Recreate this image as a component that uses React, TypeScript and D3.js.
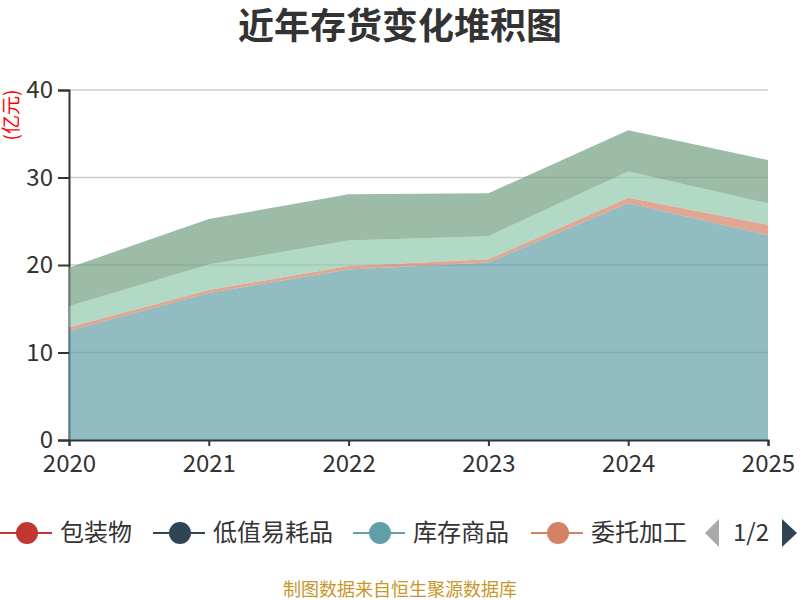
import { useEffect, useRef } from 'react';
import * as d3 from 'd3';

// years on the x axis
const years = ['2020', '2021', '2022', '2023', '2024', '2025'];

// series (stack order, bottom first), values in 亿元
const seriesNames = ['包装物', '低值易耗品', '库存商品', '委托加工', '原材料', '在产品'];
const packaging = [0, 0, 0, 0, 0, 0];
const lowValue = [0, 0, 0, 0, 0, 0];
const goods = [12.5, 16.8, 19.5, 20.3, 27.05, 23.4];
const processing = [0.4, 0.35, 0.4, 0.35, 0.65, 1.2];
const rawMaterial = [2.4, 2.9, 2.9, 2.65, 3.0, 2.45];
const wip = [4.4, 5.2, 5.3, 4.9, 4.7, 4.95];
const colors = ['#c23531', '#2f4554', '#61a0a8', '#d48265', '#91c7ae', '#749f83'];
const yTicks = [0, 10, 20, 30, 40];

const FONT = '"Noto Sans CJK SC", "Noto Sans", sans-serif';

export default function App() {
  const svgRef = useRef<SVGSVGElement>(null);

  useEffect(() => {
    if (!svgRef.current) return;
    const root = d3.select(svgRef.current);
    root.selectAll('*').remove();

    const W = 800;
    const H = 600;
    const margin = { top: 90, right: 32, bottom: 160, left: 69 };
    const width = W - margin.left - margin.right;
    const chartHeight = H - margin.top - margin.bottom;

    const allSeries = [packaging, lowValue, goods, processing, rawMaterial, wip];
    const table = years.map((y, i) => {
      const row: Record<string, number | string> = { year: y };
      seriesNames.forEach((n, k) => (row[n] = allSeries[k][i]));
      return row;
    });
    const stacked = d3.stack<any>().keys(seriesNames)(table);

    const xScale = d3.scalePoint<string>().domain(years).range([0, width]);
    const yScale = d3.scaleLinear().domain([0, 40]).range([chartHeight, 0]);

    // Title
    root
      .append('text')
      .attr('x', W / 2)
      .attr('y', 39)
      .attr('text-anchor', 'middle')
      .attr('font-family', FONT)
      .attr('font-size', 36)
      .attr('font-weight', 'bold')
      .attr('fill', '#333')
      .text('近年存货变化堆积图');

    // Unit label
    root
      .append('text')
      .attr('transform', `translate(9,115) rotate(-90)`)
      .attr('text-anchor', 'middle')
      .attr('dominant-baseline', 'central')
      .attr('font-family', FONT)
      .attr('font-size', 19)
      .attr('fill', 'red')
      .text('(亿元)');

    const svg = root.append('g').attr('transform', `translate(${margin.left},${margin.top})`);

    // Grid lines
    svg
      .selectAll('.grid')
      .data(yTicks.filter(t => t > 0))
      .enter()
      .append('line')
      .attr('x1', 0)
      .attr('x2', width)
      .attr('y1', d => yScale(d))
      .attr('y2', d => yScale(d))
      .attr('stroke', '#ccc')
      .attr('stroke-width', 1.5);

    // Y axis line drawn below the areas
    const yAxis = d3.axisLeft(yScale).tickValues(yTicks).tickSize(11).tickPadding(5);
    const yg = svg.append('g').call(yAxis);
    yg.select('.domain').attr('stroke', '#333').attr('stroke-width', 2);
    yg.selectAll('.tick line').attr('stroke', '#333').attr('stroke-width', 2);
    yg.selectAll('text')
      .attr('font-family', FONT)
      .attr('font-size', 24)
      .attr('fill', '#333');

    // Areas
    const area = d3
      .area<any>()
      .x(d => xScale(d.data.year) as number)
      .y0(d => yScale(d[0]))
      .y1(d => yScale(d[1]));

    svg
      .selectAll('.layer')
      .data(stacked)
      .enter()
      .append('path')
      .attr('d', area)
      .attr('fill', (_d, i) => colors[i])
      .attr('fill-opacity', 0.7);

    // X axis
    const xAxis = d3.axisBottom(xScale).tickSize(6).tickPadding(9);
    const xg = svg.append('g').attr('transform', `translate(0,${chartHeight})`).call(xAxis);
    xg.select('.domain').attr('stroke', '#333').attr('stroke-width', 2);
    xg.selectAll('.tick line').attr('stroke', '#333').attr('stroke-width', 2);
    xg.selectAll('text')
      .attr('font-family', FONT)
      .attr('font-size', 24)
      .attr('fill', '#333');

    // Legend (page 1 of 2)
    const legendY = 533;
    const legendItems = seriesNames.slice(0, 4);
    const itemX = [2, 155, 355, 533];
    const lg = root.append('g');
    legendItems.forEach((name, i) => {
      const x0 = itemX[i];
      const g = lg.append('g').attr('transform', `translate(${x0},${legendY})`);
      g.append('line')
        .attr('x1', -2)
        .attr('x2', 50)
        .attr('stroke', colors[i])
        .attr('stroke-width', 2);
      g.append('circle').attr('cx', 25).attr('r', 11).attr('fill', colors[i]);
      g.append('text')
        .attr('x', 58)
        .attr('dy', '0.35em')
        .attr('font-family', FONT)
        .attr('font-size', 24)
        .attr('fill', '#333')
        .text(name);
    });
    // Pager
    lg.append('path')
      .attr('d', `M719,${legendY - 14} L719,${legendY + 14} L705,${legendY} Z`)
      .attr('fill', '#aaa');
    lg.append('text')
      .attr('x', 751)
      .attr('y', legendY)
      .attr('dy', '0.35em')
      .attr('text-anchor', 'middle')
      .attr('font-family', FONT)
      .attr('font-size', 24)
      .attr('fill', '#333')
      .text('1/2');
    lg.append('path')
      .attr('d', `M782,${legendY - 14} L782,${legendY + 14} L797,${legendY} Z`)
      .attr('fill', '#2f4554');

    // Footer
    root
      .append('text')
      .attr('x', W / 2)
      .attr('y', 596)
      .attr('text-anchor', 'middle')
      .attr('font-family', FONT)
      .attr('font-size', 18)
      .attr('fill', '#c8962a')
      .text('制图数据来自恒生聚源数据库');
  }, []);

  return (
    <svg
      ref={svgRef}
      width={800}
      height={600}
      style={{ position: 'absolute', left: 0, top: 0, background: '#fff' }}
    />
  );
}
